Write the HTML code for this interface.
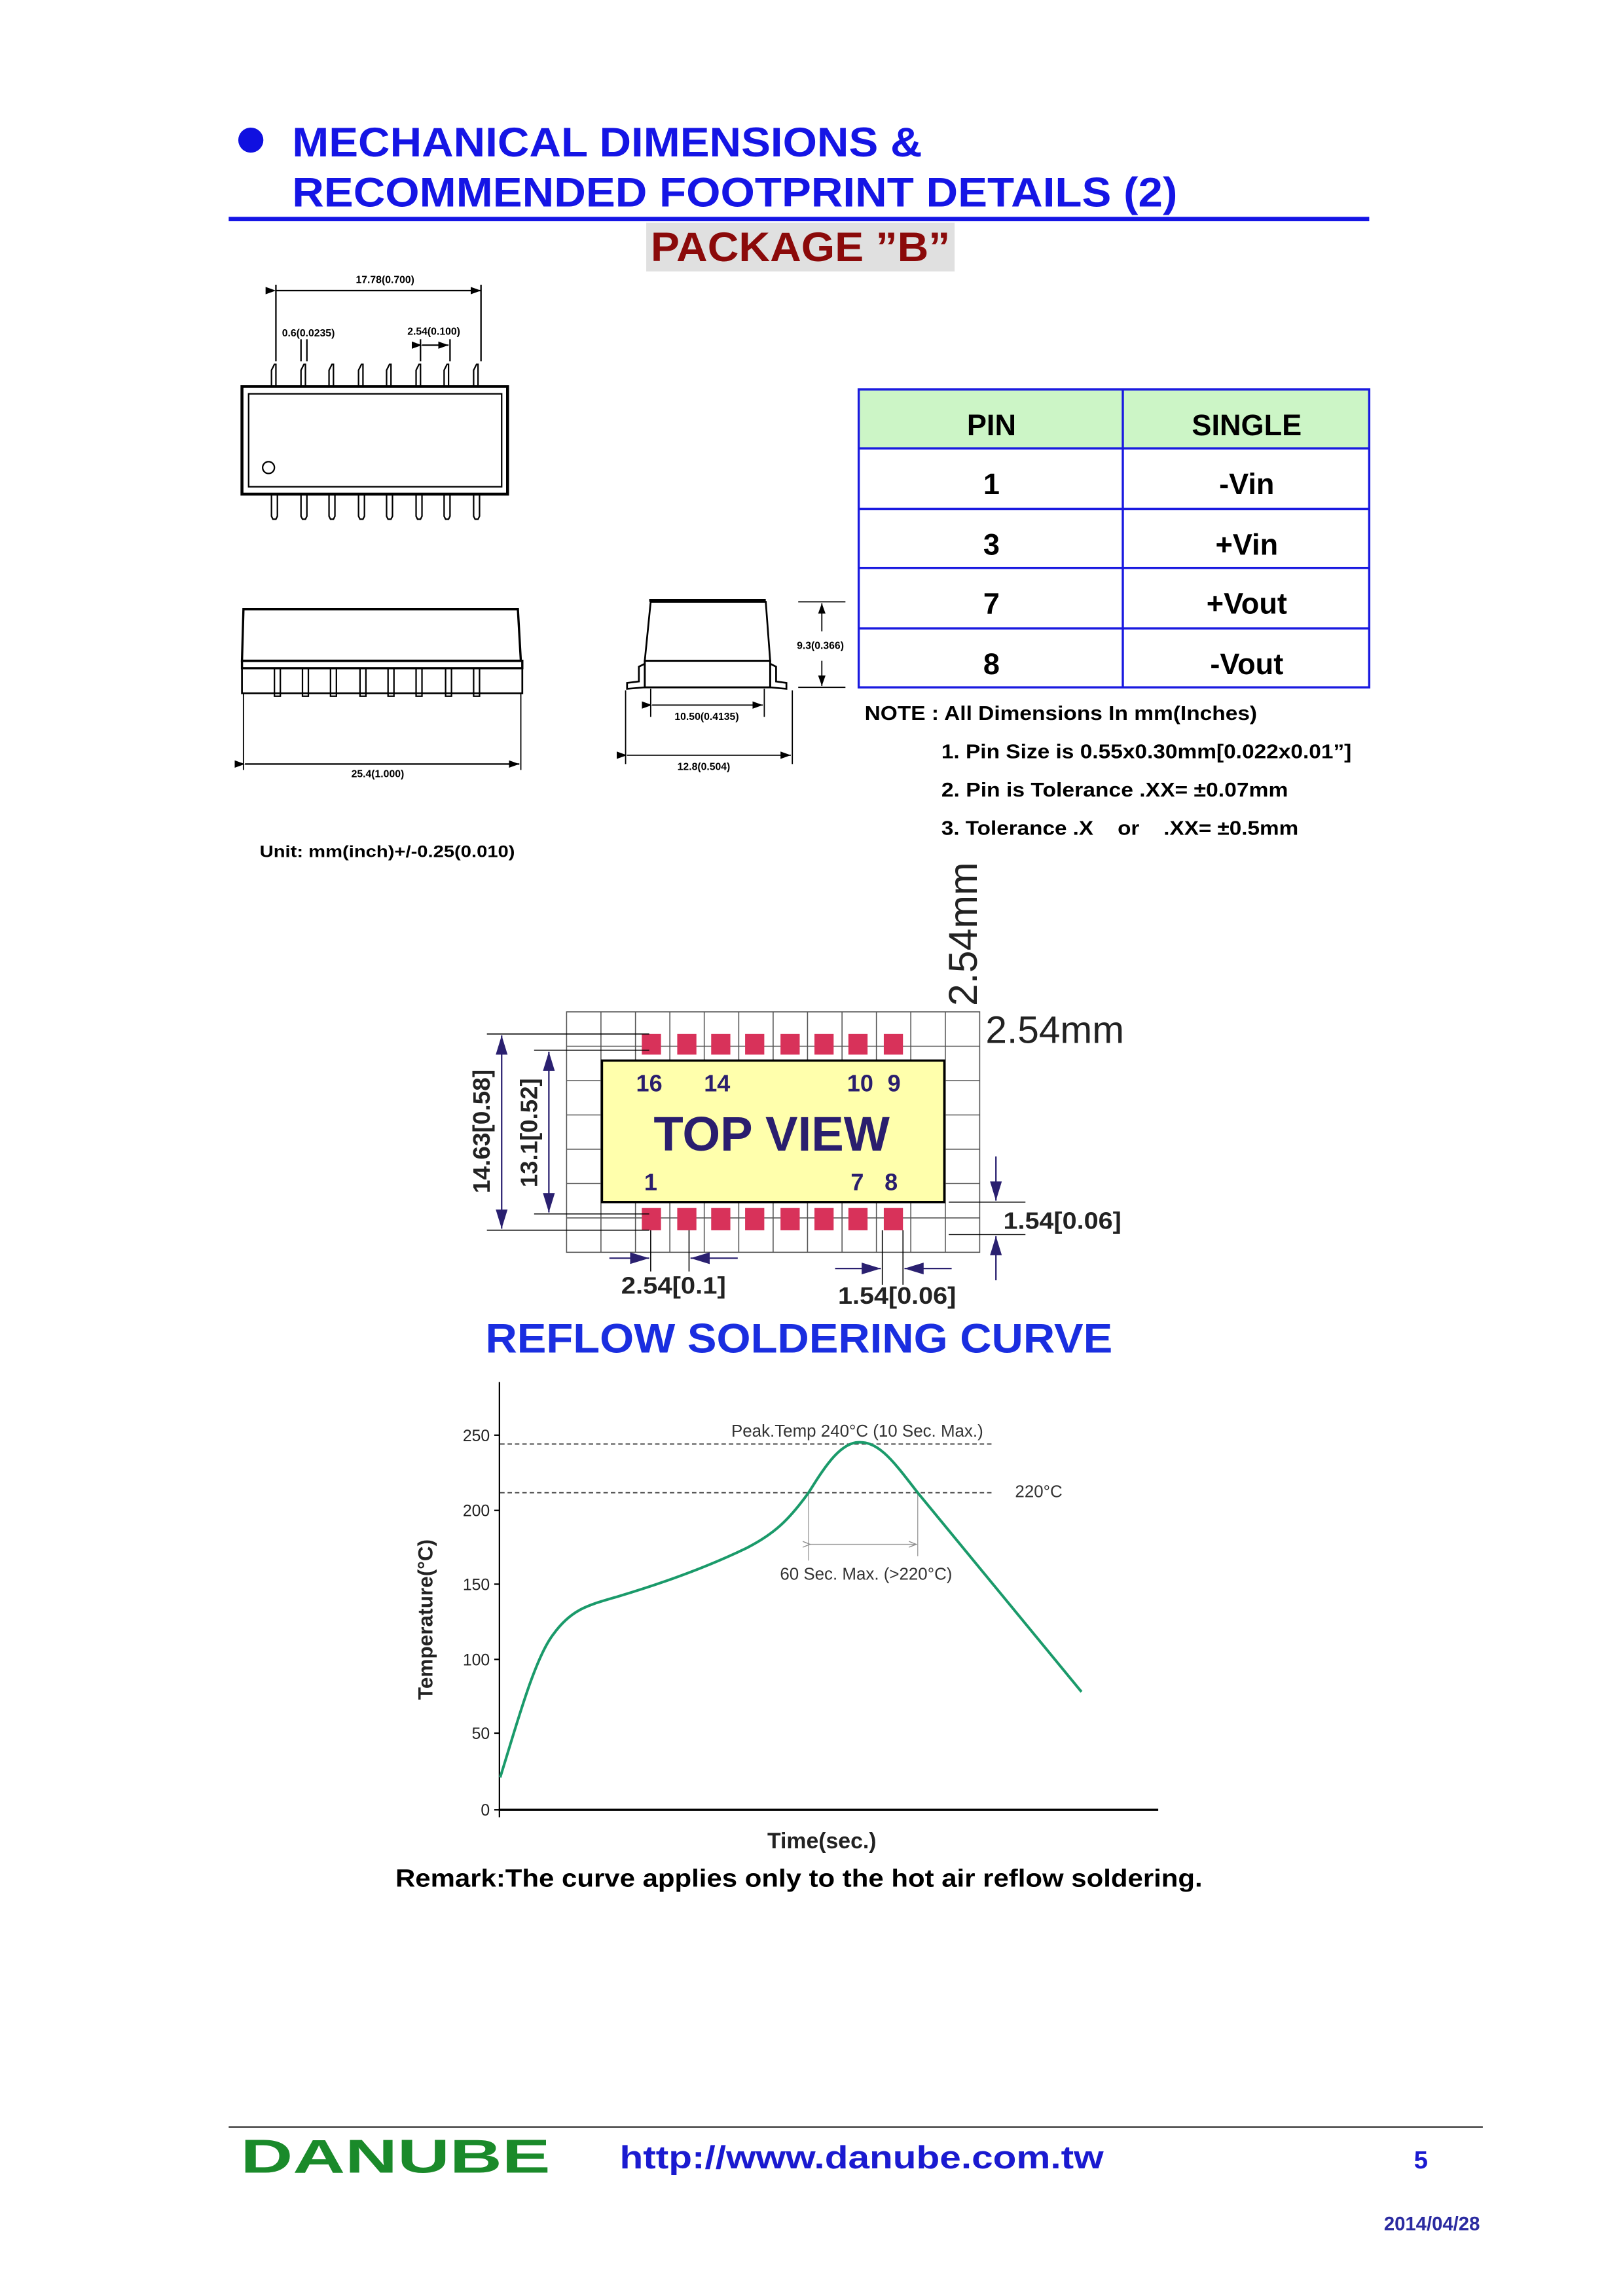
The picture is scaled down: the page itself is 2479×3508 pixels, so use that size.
<!DOCTYPE html>
<html><head><meta charset="utf-8"><style>
html,body{margin:0;padding:0;background:#fff;}
svg{display:block;}
text{font-family:"Liberation Sans",Arial,sans-serif;}
</style></head><body>
<svg width="2479" height="3508" viewBox="0 0 1100 1556.6" xmlns="http://www.w3.org/2000/svg">
<defs>
<marker id="a" markerWidth="8" markerHeight="8" refX="7" refY="4" orient="auto" markerUnits="userSpaceOnUse"><path d="M0,1.5 L7,4 L0,6.5z" fill="#000"/></marker>
<marker id="b" markerWidth="14" markerHeight="10" refX="13" refY="5" orient="auto" markerUnits="userSpaceOnUse"><path d="M0,1 L13,5 L0,9z" fill="#2a2070"/></marker>
<marker id="g" markerWidth="6" markerHeight="6" refX="5" refY="3" orient="auto" markerUnits="userSpaceOnUse"><path d="M0,1 L5,3 L0,5" fill="none" stroke="#888" stroke-width="0.6"/></marker>
</defs>
<!-- Header -->
<circle cx="170" cy="95" r="8.5" fill="#1010e0"/>
<text x="198" y="106" font-size="28" font-weight="bold" fill="#1515e5" textLength="427" lengthAdjust="spacingAndGlyphs">MECHANICAL DIMENSIONS &amp;</text>
<text x="198" y="140" font-size="28" font-weight="bold" fill="#1515e5" textLength="600" lengthAdjust="spacingAndGlyphs">RECOMMENDED FOOTPRINT DETAILS (2)</text>
<rect x="155" y="147" width="773" height="3" fill="#1515e5"/>
<rect x="438" y="151" width="209" height="33" fill="#e0e0e0"/>
<text x="441" y="177" font-size="28" font-weight="bold" fill="#8b0a0a" textLength="203" lengthAdjust="spacingAndGlyphs">PACKAGE ”B”</text>

<!-- Top view package -->
<g stroke="#000" fill="none" stroke-width="1">
<line x1="187" y1="197" x2="326" y2="197" marker-end="url(#a)" marker-start="url(#a)" />
<line x1="187" y1="193" x2="187" y2="245"/><line x1="326" y1="193" x2="326" y2="245"/>
<line x1="204" y1="230" x2="204" y2="245"/><line x1="208" y1="230" x2="208" y2="245"/>
<line x1="285" y1="230" x2="285" y2="245"/><line x1="305" y1="230" x2="305" y2="245"/>
<line x1="286" y1="234" x2="304" y2="234" marker-end="url(#a)" marker-start="url(#a)"/>
<rect x="164" y="262" width="180" height="73" stroke-width="2"/>
<rect x="168.5" y="267" width="171.5" height="63"/>
<circle cx="182" cy="317" r="4"/>
</g>
<g stroke="#000" fill="none" stroke-width="1">
<path d="M184,262 v-11 l2,-4 h1 v15 M204,262 v-11 l2,-4 h1 v15 M223,262 v-11 l2,-4 h1 v15 M243,262 v-11 l2,-4 h1 v15 M262,262 v-11 l2,-4 h1 v15 M282,262 v-11 l2,-4 h1 v15 M301,262 v-11 l2,-4 h1 v15 M321,262 v-11 l2,-4 h1 v15"/>
<path d="M184,335 v15 l1,2 h2 l1,-2 v-15 M204,335 v15 l1,2 h2 l1,-2 v-15 M223,335 v15 l1,2 h2 l1,-2 v-15 M243,335 v15 l1,2 h2 l1,-2 v-15 M262,335 v15 l1,2 h2 l1,-2 v-15 M282,335 v15 l1,2 h2 l1,-2 v-15 M301,335 v15 l1,2 h2 l1,-2 v-15 M321,335 v15 l1,2 h2 l1,-2 v-15"/>
</g>
<text x="261" y="192" font-size="7" font-weight="bold" text-anchor="middle">17.78(0.700)</text>
<text x="209" y="228" font-size="7" font-weight="bold" text-anchor="middle">0.6(0.0235)</text>
<text x="294" y="227" font-size="7" font-weight="bold" text-anchor="middle">2.54(0.100)</text>

<!-- Side view -->
<g stroke="#000" fill="none" stroke-width="1.2">
<path d="M165,413 L351,413 L353,448 L164,448 Z" stroke-width="1.5"/>
<rect x="164" y="448" width="190" height="5" stroke-width="1.5"/>
<path d="M164,453 L164,470 L354,470 L354,453"/>
<path d="M186,453 v19 h4 v-19 M205,453 v19 h4 v-19 M224,453 v19 h4 v-19 M244,453 v19 h4 v-19 M263,453 v19 h4 v-19 M282,453 v19 h4 v-19 M302,453 v19 h4 v-19 M321,453 v19 h4 v-19" stroke-width="1"/>
<line x1="165" y1="470" x2="165" y2="522" stroke-width="0.8"/><line x1="353" y1="470" x2="353" y2="522" stroke-width="0.8"/>
<line x1="166" y1="518" x2="352" y2="518" marker-end="url(#a)" marker-start="url(#a)" stroke-width="1"/>
</g>
<text x="256" y="527" font-size="7" font-weight="bold" text-anchor="middle">25.4(1.000)</text>

<!-- End view -->
<g stroke="#000" fill="none" stroke-width="1.2">
<path d="M441,408 L519,408 L522,448 L437,448 Z"/>
<line x1="440" y1="407" x2="519" y2="407" stroke-width="2"/>
<rect x="437" y="448" width="85" height="18" stroke-width="1.3"/>
<path d="M437,450 L433,452 L433,462 L425,463 L425,467 L437,466"/>
<path d="M522,450 L526,452 L526,462 L533,463 L533,467 L522,466"/>
<line x1="541" y1="408" x2="573" y2="408" stroke-width="0.8"/><line x1="541" y1="466" x2="573" y2="466" stroke-width="0.8"/>
<line x1="557" y1="428" x2="557" y2="409" marker-end="url(#a)" stroke-width="0.8"/>
<line x1="557" y1="448" x2="557" y2="465" marker-end="url(#a)" stroke-width="0.8"/>
<line x1="441" y1="467" x2="441" y2="486" stroke-width="0.8"/><line x1="518" y1="467" x2="518" y2="486" stroke-width="0.8"/>
<line x1="442" y1="478" x2="517" y2="478" marker-end="url(#a)" marker-start="url(#a)" stroke-width="0.8"/>
<line x1="424" y1="468" x2="424" y2="518" stroke-width="0.8"/><line x1="537" y1="468" x2="537" y2="518" stroke-width="0.8"/>
<line x1="425" y1="512" x2="536" y2="512" marker-end="url(#a)" marker-start="url(#a)" stroke-width="0.8"/>
</g>
<text x="556" y="440" font-size="7" font-weight="bold" text-anchor="middle">9.3(0.366)</text>
<text x="479" y="488" font-size="7" font-weight="bold" text-anchor="middle">10.50(0.4135)</text>
<text x="477" y="522" font-size="7" font-weight="bold" text-anchor="middle">12.8(0.504)</text>

<!-- Table -->
<rect x="582" y="264" width="346" height="40" fill="#ccf5c6"/>
<g stroke="#1a1ae0" stroke-width="1.5" fill="none">
<rect x="582" y="264" width="346" height="202"/>
<line x1="761" y1="264" x2="761" y2="466"/>
<line x1="582" y1="304" x2="928" y2="304"/><line x1="582" y1="345" x2="928" y2="345"/>
<line x1="582" y1="385" x2="928" y2="385"/><line x1="582" y1="426" x2="928" y2="426"/>
</g>
<g font-size="20" font-weight="bold" text-anchor="middle" fill="#000">
<text x="672" y="295">PIN</text><text x="845" y="295">SINGLE</text>
<text x="672" y="335">1</text><text x="845" y="335">-Vin</text>
<text x="672" y="376">3</text><text x="845" y="376">+Vin</text>
<text x="672" y="416">7</text><text x="845" y="416">+Vout</text>
<text x="672" y="457">8</text><text x="845" y="457">-Vout</text>
</g>
<g font-size="13.5" font-weight="bold" fill="#000">
<text x="586" y="488" textLength="266" lengthAdjust="spacingAndGlyphs">NOTE : All Dimensions In mm(Inches)</text>
<text x="638" y="514" textLength="278" lengthAdjust="spacingAndGlyphs">1. Pin Size is 0.55x0.30mm[0.022x0.01”]</text>
<text x="638" y="540" textLength="235" lengthAdjust="spacingAndGlyphs">2. Pin is Tolerance .XX= ±0.07mm</text>
<text x="638" y="566" textLength="242" lengthAdjust="spacingAndGlyphs">3. Tolerance .X &#160;&#160; or &#160;&#160; .XX= ±0.5mm</text>
</g>
<text x="176" y="581" font-size="11" font-weight="bold" textLength="173" lengthAdjust="spacingAndGlyphs">Unit: mm(inch)+/-0.25(0.010)</text>

<!-- Footprint -->
<g stroke="#555" stroke-width="0.7" fill="none">
<rect x="384" y="686" width="280" height="163"/>
<line x1="407.3" y1="686" x2="407.3" y2="849"/><line x1="430.7" y1="686" x2="430.7" y2="849"/><line x1="454" y1="686" x2="454" y2="849"/><line x1="477.3" y1="686" x2="477.3" y2="849"/><line x1="500.7" y1="686" x2="500.7" y2="849"/><line x1="524" y1="686" x2="524" y2="849"/><line x1="547.3" y1="686" x2="547.3" y2="849"/><line x1="570.7" y1="686" x2="570.7" y2="849"/><line x1="594" y1="686" x2="594" y2="849"/><line x1="617.3" y1="686" x2="617.3" y2="849"/><line x1="640.7" y1="686" x2="640.7" y2="849"/>
<line x1="384" y1="709.3" x2="664" y2="709.3"/><line x1="384" y1="732.6" x2="664" y2="732.6"/><line x1="384" y1="755.9" x2="664" y2="755.9"/><line x1="384" y1="779.1" x2="664" y2="779.1"/><line x1="384" y1="802.4" x2="664" y2="802.4"/><line x1="384" y1="825.7" x2="664" y2="825.7"/>
</g>
<rect x="408" y="719" width="232" height="96" fill="#ffffac" stroke="#000" stroke-width="1.5"/>
<g fill="#d8325a">
<rect x="435" y="701" width="13" height="14"/><rect x="459" y="701" width="13" height="14"/><rect x="482" y="701" width="13" height="14"/><rect x="505" y="701" width="13" height="14"/><rect x="529" y="701" width="13" height="14"/><rect x="552" y="701" width="13" height="14"/><rect x="575" y="701" width="13" height="14"/><rect x="599" y="701" width="13" height="14"/>
<rect x="435" y="819" width="13" height="15"/><rect x="459" y="819" width="13" height="15"/><rect x="482" y="819" width="13" height="15"/><rect x="505" y="819" width="13" height="15"/><rect x="529" y="819" width="13" height="15"/><rect x="552" y="819" width="13" height="15"/><rect x="575" y="819" width="13" height="15"/><rect x="599" y="819" width="13" height="15"/>
</g>
<g fill="#2a1e6e" font-weight="bold" font-size="16" text-anchor="middle">
<text x="440" y="740">16</text><text x="486" y="740">14</text><text x="583" y="740">10</text><text x="606" y="740">9</text>
<text x="441" y="807">1</text><text x="581" y="807">7</text><text x="604" y="807">8</text>
<text x="523" y="780" font-size="33" textLength="160" lengthAdjust="spacingAndGlyphs">TOP VIEW</text>
</g>
<text transform="translate(662,682) rotate(-90)" font-size="27" fill="#222">2.54mm</text>
<text x="668" y="707" font-size="26" fill="#222">2.54mm</text>
<g stroke="#000" stroke-width="0.7">
<line x1="330" y1="701" x2="440" y2="701"/><line x1="330" y1="834" x2="440" y2="834"/>
<line x1="362" y1="712" x2="440" y2="712"/><line x1="362" y1="823" x2="440" y2="823"/>
<line x1="643" y1="815" x2="695" y2="815"/><line x1="643" y1="837" x2="695" y2="837"/>
<line x1="441" y1="834" x2="441" y2="862"/><line x1="467" y1="834" x2="467" y2="862"/>
<line x1="598" y1="834" x2="598" y2="871"/><line x1="612" y1="834" x2="612" y2="871"/>
</g>
<g stroke="#2a2070" stroke-width="1">
<line x1="340" y1="767" x2="340" y2="702" marker-end="url(#b)"/><line x1="340" y1="767" x2="340" y2="833" marker-end="url(#b)"/>
<line x1="372" y1="767" x2="372" y2="713" marker-end="url(#b)"/><line x1="372" y1="767" x2="372" y2="822" marker-end="url(#b)"/>
<line x1="675" y1="784" x2="675" y2="814" marker-end="url(#b)"/><line x1="675" y1="868" x2="675" y2="838" marker-end="url(#b)"/>
<line x1="413" y1="853" x2="440" y2="853" marker-end="url(#b)"/><line x1="500" y1="853" x2="468" y2="853" marker-end="url(#b)"/>
<line x1="566" y1="860" x2="597" y2="860" marker-end="url(#b)"/><line x1="645" y1="860" x2="613" y2="860" marker-end="url(#b)"/>
</g>
<g font-weight="bold" font-size="16" fill="#222">
<text transform="translate(332,809) rotate(-90)" textLength="84" lengthAdjust="spacingAndGlyphs">14.63[0.58]</text>
<text transform="translate(364,805) rotate(-90)" textLength="74" lengthAdjust="spacingAndGlyphs">13.1[0.52]</text>
<text x="680" y="833" textLength="80" lengthAdjust="spacingAndGlyphs">1.54[0.06]</text>
<text x="421" y="877" textLength="71" lengthAdjust="spacingAndGlyphs">2.54[0.1]</text>
<text x="568" y="884" textLength="80" lengthAdjust="spacingAndGlyphs">1.54[0.06]</text>
</g>

<!-- Reflow -->
<text x="329" y="917" font-size="28" font-weight="bold" fill="#1a2ee0" textLength="425" lengthAdjust="spacingAndGlyphs">REFLOW SOLDERING CURVE</text>
<g stroke="#000" stroke-width="1">
<line x1="338.5" y1="937" x2="338.5" y2="1232"/>
<line x1="338" y1="1227" x2="785" y2="1227" stroke-width="1.5"/>
<line x1="335" y1="973" x2="339" y2="973"/><line x1="335" y1="1024" x2="339" y2="1024"/><line x1="335" y1="1074" x2="339" y2="1074"/><line x1="335" y1="1125" x2="339" y2="1125"/><line x1="335" y1="1175" x2="339" y2="1175"/><line x1="335" y1="1227" x2="339" y2="1227"/>
</g>
<g font-size="11" text-anchor="end" fill="#222">
<text x="332" y="977">250</text><text x="332" y="1028">200</text><text x="332" y="1078">150</text><text x="332" y="1129">100</text><text x="332" y="1179">50</text><text x="332" y="1231">0</text>
</g>
<g stroke="#444" stroke-width="0.8" stroke-dasharray="3,2" fill="none">
<line x1="339" y1="979" x2="672" y2="979"/><line x1="339" y1="1012" x2="672" y2="1012"/>
</g>
<g stroke="#999" stroke-width="0.6">
<line x1="548" y1="1012" x2="548" y2="1058"/><line x1="622" y1="1012" x2="622" y2="1055"/>
<line x1="549" y1="1047" x2="621" y2="1047" marker-end="url(#g)" marker-start="url(#g)"/>
</g>
<path d="M339,1205 C350,1170 362,1125 375,1108 C388,1090 400,1088 420,1082 C450,1073 480,1062 505,1050 C525,1040 535,1030 548,1012 C558,996 568,980 580,978 C595,976 605,990 622,1012 L733,1147" fill="none" stroke="#1a9a6a" stroke-width="1.8"/>
<text x="581" y="974" font-size="11.5" text-anchor="middle" fill="#333">Peak.Temp 240°C (10 Sec. Max.)</text>
<text x="704" y="1015" font-size="11.5" text-anchor="middle" fill="#333">220°C</text>
<text x="587" y="1071" font-size="11.5" text-anchor="middle" fill="#333">60 Sec. Max. (&gt;220°C)</text>
<text transform="translate(293,1098) rotate(-90)" font-size="14" font-weight="bold" text-anchor="middle" fill="#222">Temperature(°C)</text>
<text x="557" y="1253" font-size="15" font-weight="bold" text-anchor="middle" fill="#222">Time(sec.)</text>
<text x="268" y="1279" font-size="17" font-weight="bold" fill="#000" textLength="547" lengthAdjust="spacingAndGlyphs">Remark:The curve applies only to the hot air reflow soldering.</text>

<!-- Footer -->
<line x1="155" y1="1442" x2="1005" y2="1442" stroke="#333" stroke-width="1"/>
<text x="163" y="1473" font-size="32" font-weight="bold" fill="#1a8a2a" textLength="210" lengthAdjust="spacingAndGlyphs">DANUBE</text>
<text x="420" y="1470" font-size="22" font-weight="bold" fill="#1a1ad0" textLength="328" lengthAdjust="spacingAndGlyphs">http://www.danube.com.tw</text>
<text x="963" y="1470" font-size="17" font-weight="bold" fill="#1a1ad0" text-anchor="middle">5</text>
<text x="1003" y="1512" font-size="13" font-weight="bold" fill="#2a2aa0" text-anchor="end">2014/04/28</text>
</svg>
</body></html>
